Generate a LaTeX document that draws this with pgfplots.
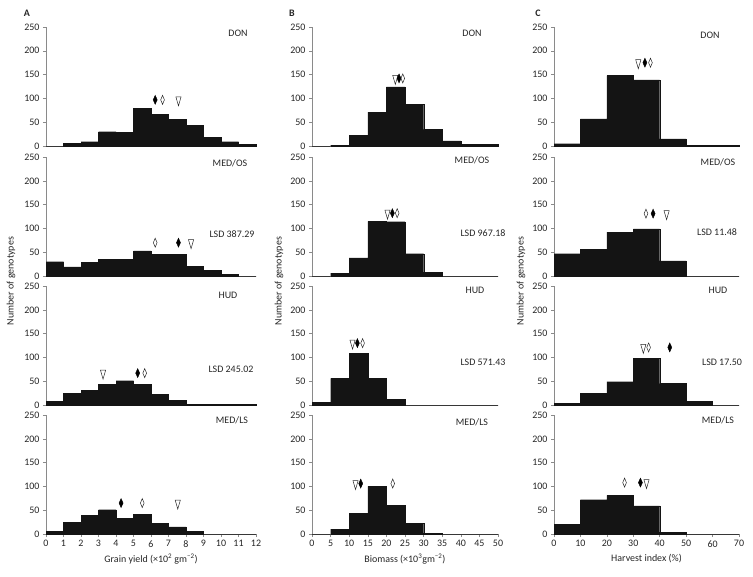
\documentclass[border=0pt]{standalone}
\usepackage{fontspec}
\setmainfont{Carlito}
\usepackage{pgfplots}
\pgfplotsset{compat=1.18}

\definecolor{bar}{HTML}{141414}
\definecolor{axl}{HTML}{8A8A8A}
\definecolor{txt}{HTML}{262626}

\pgfplotsset{
  panel/.style={
    scale only axis, height=119bp, ymin=0, ymax=250,
    axis x line*=bottom, axis y line*=left,
    axis line style={axl, line width=0.6pt},
    ytick={0,50,...,250},
    tick style={axl, line width=0.6pt},
    major tick length=3bp, tick align=outside,
    xtick=\empty,
    tick label style={font=\fontsize{10}{12}\selectfont, text=txt},
    /pgf/number format/assume math mode=true,
    xlabel style={font=\fontsize{10}{12}\selectfont, text=txt},
    clip=false, anchor=south west,
  },
  colA/.style={panel, width=210bp, xmin=0, xmax=12},
  colB/.style={panel, width=186bp, xmin=0, xmax=50},
  colC/.style={panel, width=185bp, xmin=0, xmax=70},
  hist/.style={ybar interval, fill=bar, draw=bar, line width=0.2pt},
  fd/.style={only marks, mark=diamond*, mark size=4.5bp,
    mark options={xscale=0.6, fill=black, draw=black}},
  od/.style={only marks, mark=diamond, mark size=4.5bp,
    mark options={xscale=0.55, draw=txt, line width=0.5pt, fill=white}},
  tri/.style={only marks, mark=triangle, mark size=6bp,
    mark options={xscale=0.5, yscale=-1, draw=txt, line width=0.5pt, fill=white}},
}

\begin{document}
\begin{tikzpicture}
\path[use as bounding box] (0,0) rectangle (753bp,-577bp);

% ---- column A: grain yield
\begin{axis}[colA, at={(46bp,-146bp)}]
\addplot[hist] coordinates {(0,0)(1,6)(2,9)(3,30)(4,29)(5,79)(6,66)(7,56)(8,44)(9,18)(10,9)(11,4)(12,0)};
\addplot[fd] coordinates {(6.24,97)};
\addplot[od] coordinates {(6.66,97)};
\addplot[tri] coordinates {(7.57,97)};
\end{axis}
\begin{axis}[colA, at={(46bp,-276bp)}]
\addplot[hist] coordinates {(0,30)(1,19)(2,29)(3,35)(4,35)(5,53)(6,46)(7,45)(8,20)(9,12)(10,4)(11,0)(12,0)};
\addplot[od] coordinates {(6.24,70)};
\addplot[fd] coordinates {(7.57,70)};
\addplot[tri] coordinates {(8.29,70)};
\end{axis}
\begin{axis}[colA, at={(46bp,-405bp)}]
\addplot[hist] coordinates {(0,8)(1,24)(2,31)(3,43)(4,51)(5,43)(6,22)(7,10)(8,1)(9,1)(10,1)(11,1)(12,0)};
\addplot[tri] coordinates {(3.26,67)};
\addplot[fd] coordinates {(5.24,67)};
\addplot[od] coordinates {(5.64,67)};
\end{axis}
\begin{axis}[colA, at={(46bp,-534bp)}, xtick={0,1,...,12},
  xlabel={Grain yield (×10\textsuperscript{2} gm\textsuperscript{−2})}]
\addplot[hist] coordinates {(0,6)(1,25)(2,39)(3,51)(4,33)(5,42)(6,22)(7,15)(8,6)(9,0)(10,0)(11,0)(12,0)};
\addplot[fd] coordinates {(4.29,65)};
\addplot[od] coordinates {(5.5,65)};
\addplot[tri] coordinates {(7.53,65)};
\end{axis}

% ---- column B: biomass
\begin{axis}[colB, at={(312bp,-146bp)}]
\addplot[hist] coordinates {(0,0)(5,2)(10,22)(15,71)(20,124)(25,88)(30,35)(35,11)(40,3)(45,4)(50,0)};
\addplot[tri] coordinates {(22.4,142)};
\addplot[fd] coordinates {(23.4,142)};
\addplot[od] coordinates {(24.4,142)};
\end{axis}
\begin{axis}[colB, at={(312bp,-276bp)}]
\addplot[hist] coordinates {(0,0)(5,6)(10,38)(15,115)(20,114)(25,47)(30,8)(35,0)(40,0)(45,0)(50,0)};
\addplot[tri] coordinates {(20.3,132)};
\addplot[fd] coordinates {(21.6,132)};
\addplot[od] coordinates {(22.9,132)};
\end{axis}
\begin{axis}[colB, at={(312bp,-405bp)}]
\addplot[hist] coordinates {(0,6)(5,56)(10,109)(15,56)(20,12)(25,0)(30,0)(35,0)(40,0)(45,0)(50,0)};
\addplot[tri] coordinates {(10.9,130)};
\addplot[fd] coordinates {(12.2,130)};
\addplot[od] coordinates {(13.6,130)};
\end{axis}
\begin{axis}[colB, at={(312bp,-534bp)}, xtick={0,5,...,50},
  xlabel={Biomass (×10\textsuperscript{3}gm\textsuperscript{−2})}]
\addplot[hist] coordinates {(0,0)(5,10)(10,43)(15,100)(20,60)(25,22)(30,2)(35,0)(40,0)(45,0)(50,0)};
\addplot[tri] coordinates {(11.7,106)};
\addplot[fd] coordinates {(13.1,106)};
\addplot[od] coordinates {(21.7,106)};
\end{axis}

% ---- column C: harvest index
\begin{axis}[colC, at={(554bp,-146bp)}]
\addplot[hist] coordinates {(0,5)(10,57)(20,148)(30,139)(40,15)(50,1)(60,1)(70,0)};
\addplot[tri] coordinates {(31.9,175)};
\addplot[fd] coordinates {(34.4,175)};
\addplot[od] coordinates {(36.5,175)};
\end{axis}
\begin{axis}[colC, at={(554bp,-276bp)}]
\addplot[hist] coordinates {(0,47)(10,56)(20,92)(30,99)(40,32)(50,0)(60,0)(70,0)};
\addplot[od] coordinates {(34.8,131)};
\addplot[fd] coordinates {(37.5,131)};
\addplot[tri] coordinates {(42.6,131)};
\end{axis}
\begin{axis}[colC, at={(554bp,-405bp)}]
\addplot[hist] coordinates {(0,4)(10,24)(20,49)(30,98)(40,45)(50,8)(60,0)(70,0)};
\addplot[tri] coordinates {(33.8,121)};
\addplot[od] coordinates {(35.8,121)};
\addplot[fd] coordinates {(43.8,121)};
\end{axis}
\begin{axis}[colC, at={(554bp,-534bp)}, xtick={0,10,...,70},
  xlabel={Harvest index (\%)}]
\addplot[hist] coordinates {(0,20)(10,72)(20,81)(30,59)(40,4)(50,0)(60,0)(70,0)};
\addplot[od] coordinates {(26.7,108)};
\addplot[fd] coordinates {(32.7,108)};
\addplot[tri] coordinates {(35,108)};
\end{axis}

% ---- labels
\begin{scope}[every node/.style={font=\fontsize{10}{12}\selectfont, text=txt}]
\node[font=\fontsize{10}{12}\selectfont\bfseries] at (27bp,-13bp) {A};
\node[font=\fontsize{10}{12}\selectfont\bfseries] at (292bp,-13bp) {B};
\node[font=\fontsize{10}{12}\selectfont\bfseries] at (538bp,-13bp) {C};
\node[rotate=90] at (11bp,-281bp) {Number of genotypes};
\node[rotate=90] at (279bp,-281bp) {Number of genotypes};
\node[rotate=90] at (521bp,-281bp) {Number of genotypes};
\node at (238bp,-33bp) {DON};
\node at (230bp,-163bp) {MED/OS};
\node at (228bp,-295bp) {HUD};
\node at (232bp,-420bp) {MED/LS};
\node at (472bp,-33bp) {DON};
\node at (472bp,-160bp) {MED/OS};
\node at (475bp,-290bp) {HUD};
\node at (472bp,-422bp) {MED/LS};
\node at (710bp,-35bp) {DON};
\node at (718bp,-162bp) {MED/OS};
\node at (718bp,-290bp) {HUD};
\node at (718bp,-420bp) {MED/LS};
\node at (232bp,-234bp) {LSD 387.29};
\node at (231bp,-369bp) {LSD 245.02};
\node at (483bp,-233bp) {LSD 967.18};
\node at (483bp,-362bp) {LSD 571.43};
\node at (717bp,-232bp) {LSD 11.48};
\node at (722bp,-362bp) {LSD 17.50};
\end{scope}
\end{tikzpicture}
\end{document}
